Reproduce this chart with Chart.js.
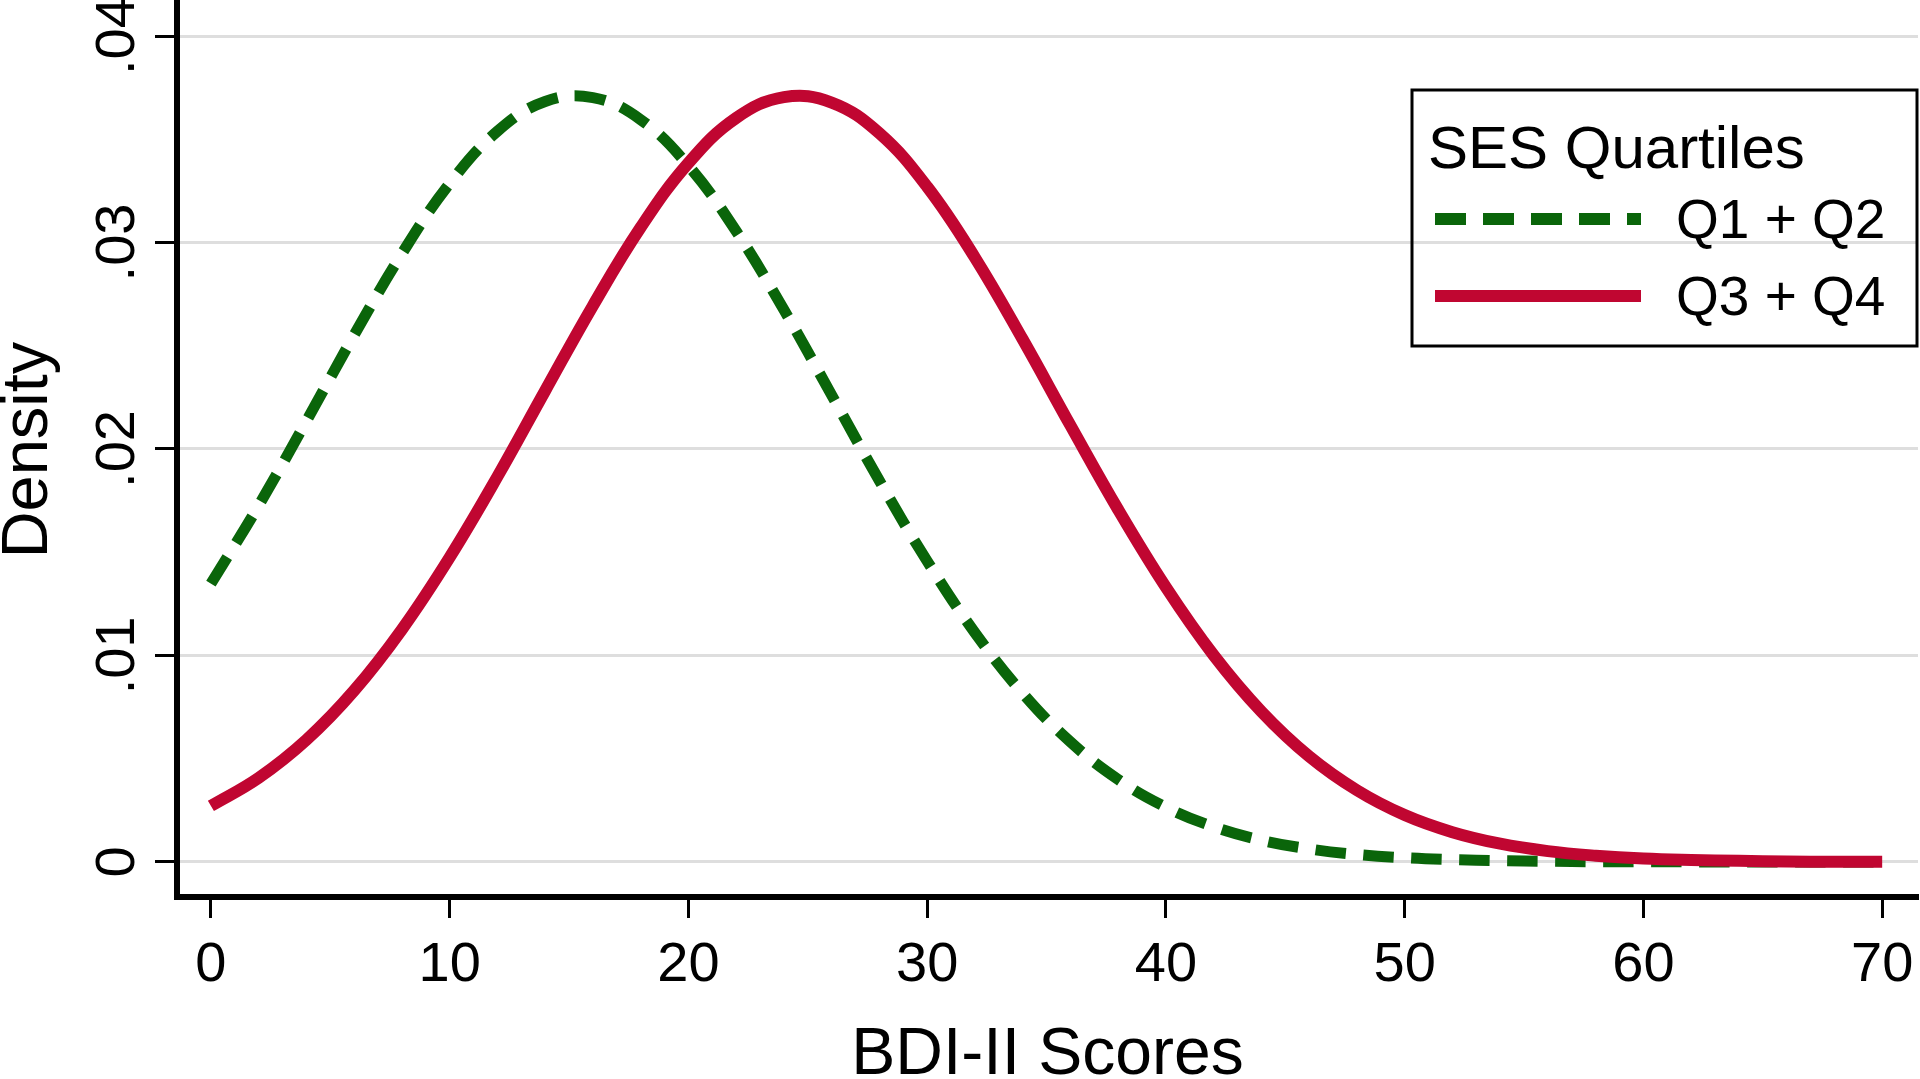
<!DOCTYPE html>
<html>
<head>
<meta charset="utf-8">
<title>BDI-II density by SES</title>
<script src="https://cdn.jsdelivr.net/npm/chart.js@4.4.1/dist/chart.umd.min.js"></script>
<style>
  html, body { margin: 0; padding: 0; background: #fff; }
  #wrap { width: 1920px; height: 1079px; }
</style>
</head>
<body>
<div id="wrap"><canvas id="densityChart" width="1920" height="1079"></canvas></div>
<script>
// BDI-II score grid the densities were read at
const scores = [0, 2, 4, 6, 8, 10, 12, 14, 16, 18, 20, 22, 24, 26, 28, 30, 32, 34, 36, 38,
                40, 42, 44, 46, 48, 50, 52, 54, 56, 58, 60, 62, 64, 66, 68, 70];

// Q1 + Q2 (dashed green)
const lowSes = [0.01348, 0.01726, 0.02135, 0.02552, 0.02946, 0.03286, 0.03539, 0.03683, 0.03702,
                0.03595, 0.03372, 0.03055, 0.02674, 0.02261, 0.01846, 0.01457, 0.01110, 0.00817,
                0.00581, 0.00399, 0.00265, 0.00170, 0.00105, 0.00063, 0.00036, 0.00020, 0.00011, 0.00006,
                0.00003, 0.00001, 0.00001, 0, 0, 0, 0, 0];

// Q3 + Q4 (solid red)
const highSes = [0.00271, 0.00407, 0.00591, 0.00830, 0.01126, 0.01475, 0.01866, 0.02282, 0.02694,
                 0.03073, 0.03385, 0.03603, 0.03704, 0.03678, 0.03529, 0.03270, 0.02927, 0.02531,
                 0.02114, 0.01706, 0.01330, 0.01001, 0.00728, 0.00511, 0.00347, 0.00227, 0.00144, 0.00088,
                 0.00052, 0.00030, 0.00016, 0.00009, 0.00005, 0.00002, 0.00001, 0.00001];

const xTicks = [0, 10, 20, 30, 40, 50, 60, 70];
const yTicks = [0, 0.01, 0.02, 0.03, 0.04];
const yTickLabels = ['0', '.01', '.02', '.03', '.04'];
const seriesLabels = ['Q1 + Q2', 'Q3 + Q4'];
const legendTitle = 'SES Quartiles';

const FONT = '"Liberation Sans", Arial, sans-serif';
const GREEN = '#0a650a';
const RED = '#c00631';

// y tick labels are drawn rotated (reading upwards) and the legend sits inside the plot
const stataExtras = {
    id: 'stataExtras',
    afterDraw(chart) {
        const ctx = chart.ctx;
        const yScale = chart.scales.y;
        ctx.save();
        ctx.fillStyle = '#000';
        ctx.font = '56px ' + FONT;
        ctx.textAlign = 'center';
        ctx.textBaseline = 'alphabetic';
        yTicks.forEach((v, i) => {
            const py = yScale.getPixelForValue(v);
            ctx.save();
            ctx.translate(134, py);
            ctx.rotate(-Math.PI / 2);
            ctx.fillText(yTickLabels[i], 0, 0);
            ctx.restore();
        });

        // legend box
        ctx.strokeStyle = '#000';
        ctx.lineWidth = 3;
        ctx.strokeRect(1412, 90, 505, 256);
        ctx.textAlign = 'left';
        ctx.font = '60px ' + FONT;
        ctx.fillText(legendTitle, 1428, 168);

        ctx.font = '55px ' + FONT;
        const rows = [219, 296];
        chart.data.datasets.forEach((ds, i) => {
            ctx.save();
            ctx.strokeStyle = ds.borderColor;
            ctx.lineWidth = 12;
            ctx.lineCap = 'butt';
            ctx.setLineDash(ds.borderDash || []);
            ctx.beginPath();
            ctx.moveTo(1435, rows[i]);
            ctx.lineTo(1641, rows[i]);
            ctx.stroke();
            ctx.restore();
            ctx.fillText(ds.label, 1676, rows[i] + 19);
        });
        ctx.restore();
    }
};

new Chart(document.getElementById('densityChart'), {
    type: 'line',
    data: {
        datasets: [{
            label: seriesLabels[0],
            data: scores.map((x, i) => ({ x: x, y: lowSes[i] })),
            borderColor: GREEN,
            borderWidth: 11,
            borderDash: [31, 17],
            pointRadius: 0,
            fill: false,
            tension: 0.4,
            order: 2
        }, {
            label: seriesLabels[1],
            data: scores.map((x, i) => ({ x: x, y: highSes[i] })),
            borderColor: RED,
            borderWidth: 12,
            pointRadius: 0,
            fill: false,
            tension: 0.4,
            order: 1
        }]
    },
    options: {
        responsive: false,
        devicePixelRatio: 1,
        animation: false,
        layout: { padding: { top: 3, right: 2, left: 0, bottom: 0 } },
        plugins: {
            legend: { display: false },
            tooltip: { enabled: false }
        },
        scales: {
            x: {
                type: 'linear',
                min: -1.42,
                max: 71.5,
                afterBuildTicks: (scale) => { scale.ticks = xTicks.map(v => ({ value: v })); },
                afterFit: (scale) => {
                    scale.height = 182;
                    scale.paddingLeft = 0;
                    scale.paddingRight = 0;
                },
                border: { display: true, color: '#000', width: 6 },
                grid: {
                    drawOnChartArea: false,
                    drawTicks: true,
                    tickLength: 21,
                    tickWidth: 3,
                    tickColor: '#000'
                },
                ticks: {
                    color: '#000',
                    padding: 14,
                    maxRotation: 0,
                    font: { family: FONT, size: 56 }
                },
                title: {
                    display: true,
                    text: 'BDI-II Scores',
                    color: '#000',
                    font: { family: FONT, size: 66, lineHeight: 0.7 },
                    padding: { top: 0, bottom: 0 }
                }
            },
            y: {
                type: 'linear',
                min: -0.0017,
                max: 0.0416,
                afterBuildTicks: (scale) => { scale.ticks = yTicks.map(v => ({ value: v })); },
                afterFit: (scale) => {
                    scale.width = 177;
                    scale.paddingTop = 0;
                    scale.paddingBottom = 0;
                },
                border: { display: true, color: '#000', width: 6 },
                grid: {
                    color: '#dedede',
                    lineWidth: 3,
                    drawTicks: true,
                    tickLength: 22,
                    tickWidth: 3,
                    tickColor: '#000'
                },
                ticks: { display: false },
                title: {
                    display: true,
                    text: 'Density',
                    color: '#000',
                    font: { family: FONT, size: 65, lineHeight: 0.85 },
                    padding: { top: 1, bottom: 0 }
                }
            }
        }
    },
    plugins: [stataExtras]
});
</script>
</body>
</html>
